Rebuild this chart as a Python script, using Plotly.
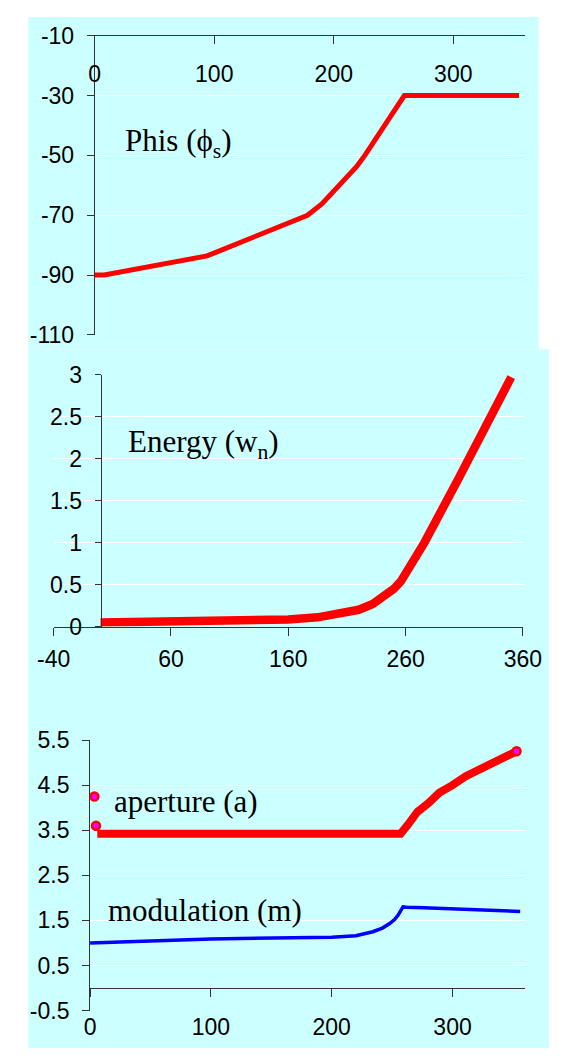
import plotly.graph_objects as go

# ---------------- data ----------------
PHIS_X = [0, 8, 94, 178, 190, 200, 210, 219, 226, 233, 240, 247, 253, 259, 355]
PHIS_Y = [-90, -90, -83.6, -70, -66.2, -62.0, -57.8, -53.8, -50.0, -45.8, -41.4, -37.0, -33.5, -30, -30]

ENERGY_X = [0, 60, 120, 160, 185, 205, 220, 232, 242, 250, 256, 266, 276, 305, 350]
ENERGY_Y = [0.05, 0.06, 0.07, 0.085, 0.11, 0.15, 0.2, 0.27, 0.36, 0.45, 0.54, 0.76, 1.0, 1.76, 2.97]

APERTURE_X = [3.6, 4.9, 6, 100, 200, 257, 263, 271, 280, 289, 300, 311, 330, 353]
APERTURE_Y = [4.25, 3.6, 3.42, 3.42, 3.42, 3.42, 3.62, 3.91, 4.10, 4.33, 4.50, 4.70, 4.95, 5.25]

MOD_X = [0, 100, 200, 220, 234, 242, 248, 252, 255, 257, 259, 262, 276, 356]
MOD_Y = [1.0, 1.09, 1.13, 1.16, 1.25, 1.33, 1.43, 1.52, 1.62, 1.70, 1.80, 1.79, 1.78, 1.70]

P1_YTICKS = [-110, -90, -70, -50, -30, -10]
P1_XTICKS = [0, 100, 200, 300]
P2_YTICKS = [0, 0.5, 1, 1.5, 2, 2.5, 3]
P2_XTICKS = [-40, 60, 160, 260, 360]
P3_YTICKS = [-0.5, 0.5, 1.5, 2.5, 3.5, 4.5, 5.5]
P3_XTICKS = [0, 100, 200, 300]

LABELS = ["Phis (\u03d5<sub>s</sub>)", "Energy (w<sub>n</sub>)", "aperture (a)", "modulation (m)"]

# ---------------- styling ----------------
W, H = 568, 1061
CYAN = "#CCFFFF"
AX = "#333333"
TICKFONT = dict(family="Liberation Sans, Arial, sans-serif", size=23, color="black")
SERIF = dict(family="Liberation Serif, Times New Roman, serif", size=31, color="black")


def fx(px):
    return px / W


def fy(py):
    return 1 - py / H


def lab(v):
    return "%g" % v


fig = go.Figure()

fig.add_trace(go.Scatter(x=PHIS_X, y=PHIS_Y, mode="lines", xaxis="x", yaxis="y",
                         line=dict(color="#FF0000", width=5), showlegend=False, hoverinfo="skip"))
fig.add_trace(go.Scatter(x=ENERGY_X, y=ENERGY_Y, mode="lines", xaxis="x2", yaxis="y2",
                         line=dict(color="#FF0000", width=8.5), showlegend=False, hoverinfo="skip"))
fig.add_trace(go.Scatter(x=APERTURE_X[2:], y=APERTURE_Y[2:], mode="lines", xaxis="x3", yaxis="y3",
                         line=dict(color="#FF0000", width=8), showlegend=False, hoverinfo="skip"))
fig.add_trace(go.Scatter(x=APERTURE_X[:2] + APERTURE_X[-1:], y=APERTURE_Y[:2] + APERTURE_Y[-1:],
                         mode="markers", xaxis="x3", yaxis="y3",
                         marker=dict(color="#FF00FF", size=8, line=dict(color="#FF0000", width=2.5)),
                         showlegend=False, hoverinfo="skip"))
fig.add_trace(go.Scatter(x=MOD_X, y=MOD_Y, mode="lines", xaxis="x4", yaxis="y3",
                         line=dict(color="#0000FF", width=3.5), showlegend=False, hoverinfo="skip"))

common_axis = dict(showline=True, linecolor=AX, linewidth=1, tickcolor=AX, tickwidth=1,
                   tickfont=TICKFONT, zeroline=False, fixedrange=True)

fig.update_layout(
    width=W, height=H, autosize=False,
    margin=dict(l=0, r=0, t=0, b=0),
    paper_bgcolor="white", plot_bgcolor="rgba(0,0,0,0)",
    showlegend=False,
    # panel 1
    xaxis=dict(common_axis, domain=[fx(83), fx(542.4)], range=[0, 360], anchor="y", side="top",
               tickvals=P1_XTICKS, ticktext=[lab(v) for v in P1_XTICKS],
               ticks="inside", ticklen=8, ticklabelposition="inside", ticklabeloverflow="allow",
               ticklabelstandoff=24, showgrid=False),
    yaxis=dict(common_axis, domain=[fy(330), fy(23.3)], range=[-110, -10], anchor="x",
               tickvals=P1_YTICKS, ticktext=[lab(v) for v in P1_YTICKS],
               ticks="outside", ticklen=7, ticklabelstandoff=8,
               showgrid=True, gridcolor="white", gridwidth=1),
    # panel 2
    xaxis2=dict(common_axis, domain=[fx(39.1), fx(540.2)], range=[-40, 360], anchor="y2",
                tickvals=P2_XTICKS, ticktext=[lab(v) for v in P2_XTICKS],
                ticks="outside", ticklen=8, ticklabelstandoff=4, showgrid=False),
    yaxis2=dict(common_axis, domain=[fy(629), fy(370.7)], range=[0, 3], anchor="free",
                position=fx(89.2),
                tickvals=P2_YTICKS, ticktext=[lab(v) for v in P2_YTICKS],
                ticks="outside", ticklen=6, ticklabelstandoff=8,
                showgrid=True, gridcolor="white", gridwidth=1),
    # panel 3
    xaxis3=dict(common_axis, domain=[fx(78), fx(542.4)], range=[0, 360], anchor="y3",
                showline=False, tickvals=P3_XTICKS, ticktext=[lab(v) for v in P3_XTICKS],
                ticks="", showgrid=False),
    xaxis4=dict(common_axis, overlaying="x3", range=[0, 360], anchor="free", position=fy(1000),
                tickvals=P3_XTICKS, ticks="outside", ticklen=8, showticklabels=False, showgrid=False),
    yaxis3=dict(common_axis, domain=[fy(1022.7), fy(745.3)], range=[-0.5, 5.5], anchor="x3",
                tickvals=P3_YTICKS, ticktext=[lab(v) for v in P3_YTICKS],
                ticks="outside", ticklen=7, ticklabelstandoff=8,
                showgrid=True, gridcolor="white", gridwidth=1),
    shapes=[
        dict(type="rect", xref="paper", yref="paper", x0=fx(12), x1=fx(557), y0=fy(345), y1=fy(4),
             fillcolor=CYAN, line=dict(width=0), layer="below"),
        dict(type="rect", xref="paper", yref="paper", x0=fx(12), x1=1, y0=0, y1=fy(345),
             fillcolor=CYAN, line=dict(width=0), layer="below"),
    ],
    annotations=[
        dict(text=LABELS[0], xref="paper", yref="paper", x=fx(113), y=fy(133),
             xanchor="left", yanchor="middle", showarrow=False, font=SERIF),
        dict(text=LABELS[1], xref="paper", yref="paper", x=fx(116.7), y=fy(441.7),
             xanchor="left", yanchor="middle", showarrow=False, font=SERIF),
        dict(text=LABELS[2], xref="paper", yref="paper", x=fx(101.4), y=fy(808.3),
             xanchor="left", yanchor="middle", showarrow=False, font=SERIF),
        dict(text=LABELS[3], xref="paper", yref="paper", x=fx(95), y=fy(920),
             xanchor="left", yanchor="middle", showarrow=False, font=SERIF),
    ],
)

fig.write_html("out.html", config={"displayModeBar": False},
               post_script="document.body.style.margin='0px';document.body.style.overflow='hidden';")
